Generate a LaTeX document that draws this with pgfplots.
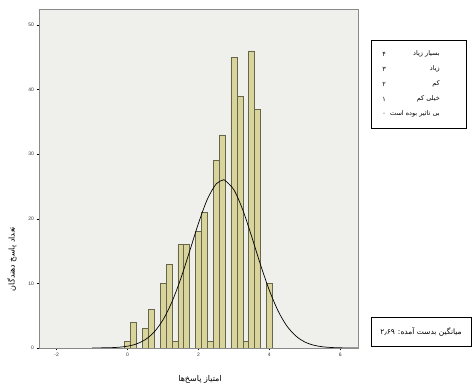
\documentclass[border=0pt]{standalone}
\usepackage{pgfplots}
\pgfplotsset{compat=1.18}
\usepackage{fontspec}
\setmainfont{Liberation Sans}
\newfontfamily\arabicfont[Script=Arabic]{DejaVu Sans}
\TeXXeTstate=1
\definecolor{bgc}{HTML}{EFEFEC}
\definecolor{barfill}{HTML}{D8D49C}
\definecolor{baredge}{HTML}{66664A}
\definecolor{framec}{HTML}{8A8A8A}
\begin{document}
\begin{tikzpicture}
\path[use as bounding box] (0pt,0pt) rectangle (473pt,387pt);
\begin{axis}[
  at={(39pt,39pt)}, anchor=south west,
  scale only axis, width=319pt, height=339pt,
  xmin=-2.5, xmax=6.5, ymin=0, ymax=52.5,
  xtick={-2,0,2,4,6}, ytick={0,10,20,30,40,50},
  tick pos=left, tick align=outside,
  major tick length=2.5pt,
  tick style={draw=black, line width=0.5pt},
  axis background/.style={fill=bgc},
  axis line style={draw=framec, line width=0.7pt},
  ticklabel style={font=\fontsize{5}{6}\selectfont, text=black!80},
  /pgf/number format/assume math mode=true,
  xticklabel style={yshift=1pt},
  yticklabel style={xshift=1pt},
  clip=true,
]
\addplot[ybar, bar shift=0pt, bar width=0.16667, fill=barfill, draw=baredge, line width=0.6pt]
coordinates {
(0,1) (0.16667,4) (0.5,3) (0.66667,6) (1,10) (1.16667,13) (1.33333,1)
(1.5,16) (1.66667,16) (2,18) (2.16667,21) (2.33333,1) (2.5,29) (2.66667,33)
(3,45) (3.16667,39) (3.33333,1) (3.5,46) (3.66667,37) (4,10)
};
\addplot[black, line width=0.7pt, smooth, mark=none]
coordinates {
(-1.0,0.005) (-0.5,0.045) (-0.25,0.118) (0,0.284) (0.25,0.632) (0.5,1.302)
(0.75,2.482) (1.0,4.37) (1.25,7.13) (1.5,10.74) (1.75,14.98) (2.0,19.32)
(2.25,23.04) (2.5,25.42) (2.69,26.0) (2.75,25.94) (3.0,24.49) (3.25,21.38)
(3.5,17.26) (3.75,12.89) (4.0,8.92) (4.25,5.69) (4.5,3.36) (4.75,1.84)
(5.0,0.93) (5.25,0.435) (5.5,0.188) (5.75,0.075) (6.0,0.028) (6.25,0.0095) (6.5,0.003)
};
\end{axis}
% y label
\node[rotate=90, font=\arabicfont\fontsize{8}{9}\selectfont] at (12pt,128pt) {\beginR تعداد پاسخ دهندگان\endR};
% x label
\node[font=\arabicfont\fontsize{8}{9}\selectfont] at (200pt,8pt) {\beginR امتیاز پاسخ‌ها\endR};
% legend box
\draw[black, line width=0.9pt] (371pt,259pt) rectangle (466pt,347pt);
\foreach \yy/\lab/\num in {333/بسیار زیاد/۴, 318/زیاد/۳, 303/کم/۲, 288/خیلی کم/۱, 273/بی تاثیر بوده است/۰}{
  \node[anchor=east, font=\arabicfont\fontsize{6.5}{7.5}\selectfont, inner sep=0pt] at (440pt,\yy pt) {\beginR\lab\endR};
  \node[font=\arabicfont\fontsize{6.5}{7.5}\selectfont, inner sep=0pt] at (384pt,\yy pt) {\num};
}
% mean box
\draw[black, line width=0.9pt] (371pt,41pt) rectangle (471pt,70pt);
\node[font=\arabicfont\fontsize{7.5}{9}\selectfont, inner sep=0pt] at (421pt,55.5pt) {\beginR میانگین بدست آمده: ۲٫۶۹\endR};
\end{tikzpicture}
\end{document}
